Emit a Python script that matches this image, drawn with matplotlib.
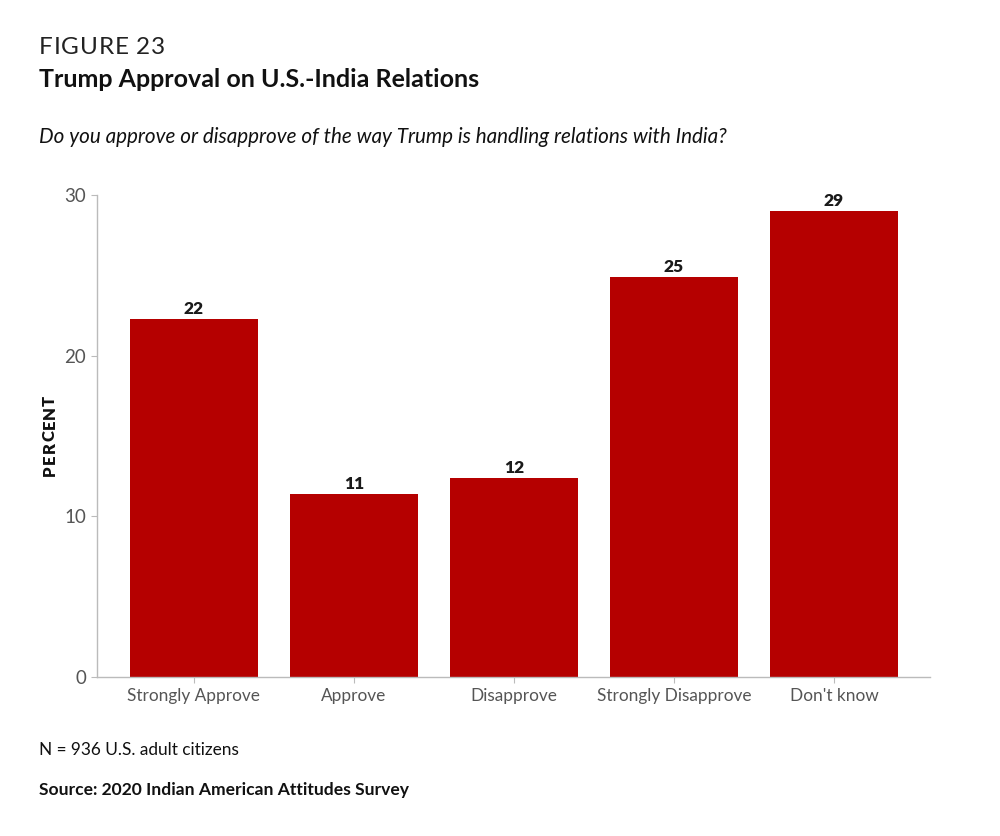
import numpy as np
import matplotlib
matplotlib.use("Agg")
import matplotlib.pyplot as plt

categories = ["Strongly Approve", "Approve", "Disapprove", "Strongly Disapprove", "Don't know"]
values = [22.3, 11.4, 12.4, 24.9, 29.0]
labels = ["22", "11", "12", "25", "29"]
yticks = [0, 10, 20, 30]

plt.rcParams['font.family'] = ['Lato', 'DejaVu Sans']

fig = plt.figure(figsize=(10, 8.36), dpi=100)
ax = fig.add_axes([0.097, 0.1902, 0.833, 0.5765])
renderer = fig.canvas.get_renderer()

x = np.arange(len(categories))
ax.bar(x, values, width=0.8, color="#b50000")
for xi, v, lab in zip(x, values, labels):
    ax.text(xi, v + 0.12, lab, ha="center", va="bottom", fontsize=12.5,
            fontweight="heavy", color="#1a1a1a")

ax.set_xlim(-0.605, 4.6)
ax.set_ylim(0, 30)
ax.set_xticks(x)
ax.set_xticklabels(categories, fontsize=12.4, color="#555555")
ax.set_yticks(yticks)
ax.set_yticklabels([str(t) for t in yticks], fontsize=13.5, color="#555555")
ax.tick_params(axis="both", length=4, width=0.8, color="#bbbbbb", pad=4)
for s in ["top", "right"]:
    ax.spines[s].set_visible(False)
for s in ["left", "bottom"]:
    ax.spines[s].set_color("#bbbbbb")
    ax.spines[s].set_linewidth(1.0)

# y axis label, letter spaced
word = "PERCENT"
y0 = 0.4366
for i, ch in enumerate(word):
    fig.text(0.0495, y0 + i * 0.014, ch, rotation=90, ha="center", va="center",
             fontsize=12, fontweight="heavy", color="#111111")

# letter spaced kicker
kicker = "FIGURE 23"
kx = 0.039
for ch in kicker:
    t = fig.text(kx, 0.943, ch, fontsize=17.5, color="#222222", va="center")
    w = t.get_window_extent(renderer=renderer).width
    kx += (w + 0.8) / 1000

fig.text(0.039, 0.905, "Trump Approval on U.S.-India Relations", fontsize=18,
         fontweight="bold", color="#111111", va="center")
fig.text(0.039, 0.836, "Do you approve or disapprove of the way Trump is handling relations with India?",
         fontsize=14.9, style="italic", color="#111111", va="center")
fig.text(0.039, 0.103, "N = 936 U.S. adult citizens", fontsize=12.4, color="#111111", va="center")
fig.text(0.039, 0.055, "Source: 2020 Indian American Attitudes Survey", fontsize=12.6,
         fontweight="bold", color="#111111", va="center")

fig.savefig("out.png", dpi=100)
